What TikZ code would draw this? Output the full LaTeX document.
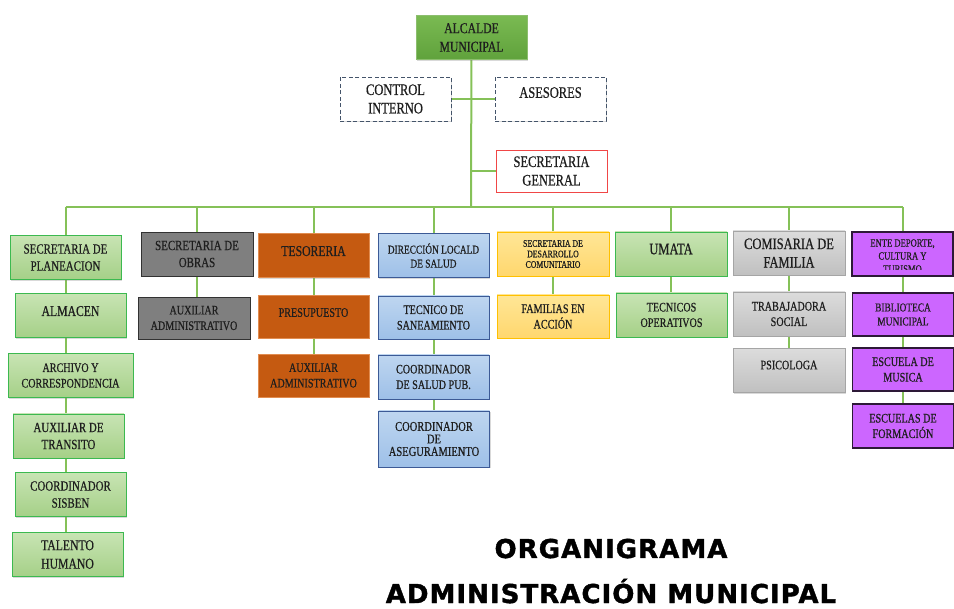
\documentclass[tikz,border=0pt]{standalone}
\usepackage{fontspec}
\usepackage{xcolor}
\usetikzlibrary{shadows,backgrounds}

\newfontfamily\boxfont[FakeStretch=0.78,FakeBold=0.6]{Liberation Serif}
\newfontfamily\titlefont[LetterSpace=4,FakeBold=1.5]{DejaVu Sans Bold}

\definecolor{linkgreen}{RGB}{133,193,88}
\definecolor{boxtext}{RGB}{30,30,30}
\definecolor{mayorA}{RGB}{122,186,82}
\definecolor{mayorB}{RGB}{96,162,60}
\definecolor{mayorline}{RGB}{140,190,110}
\definecolor{advisor}{RGB}{68,84,106}
\definecolor{secred}{RGB}{240,70,70}
\definecolor{planA}{RGB}{200,228,180}
\definecolor{planB}{RGB}{165,208,135}
\definecolor{planline}{RGB}{60,185,80}
\definecolor{worksgray}{RGB}{127,127,127}
\definecolor{worksline}{RGB}{50,50,50}
\definecolor{treasury}{RGB}{197,90,17}
\definecolor{treasuryline}{RGB}{225,140,80}
\definecolor{healthA}{RGB}{190,214,240}
\definecolor{healthB}{RGB}{158,192,232}
\definecolor{healthline}{RGB}{60,90,150}
\definecolor{devA}{RGB}{255,230,150}
\definecolor{devB}{RGB}{255,215,110}
\definecolor{devline}{RGB}{255,192,0}
\definecolor{familyA}{RGB}{220,220,220}
\definecolor{familyB}{RGB}{192,192,192}
\definecolor{familyline}{RGB}{165,165,165}
\definecolor{culture}{RGB}{204,102,255}
\definecolor{cultureline}{RGB}{45,25,55}

\begin{document}
\begin{tikzpicture}[x=1pt, y=-1pt,
    unit/.style={draw, line width=0.9pt, minimum width=111pt, minimum height=44pt,
        align=center, inner sep=2pt, text=boxtext,
        drop shadow={shadow xshift=1.2pt, shadow yshift=-1.2pt, opacity=0.3}},
    link/.style={draw=linkgreen, line width=2pt},
    mayor/.style={top color=mayorA, bottom color=mayorB, draw=mayorline},
    advice/.style={draw=advisor, dash pattern=on 4pt off 2.5pt, fill=white, drop shadow={opacity=0}},
    general/.style={draw=secred, fill=white},
    plan/.style={top color=planA, bottom color=planB, draw=planline},
    works/.style={fill=worksgray, draw=worksline},
    money/.style={fill=treasury, draw=treasuryline},
    health/.style={top color=healthA, bottom color=healthB, draw=healthline},
    develop/.style={top color=devA, bottom color=devB, draw=devline},
    family/.style={top color=familyA, bottom color=familyB, draw=familyline},
    sport/.style={fill=culture, draw=cultureline, line width=1.3pt},
    raised/.style={text depth=#1},
    sz16/.style={font=\boxfont\fontsize{16}{18.5}\selectfont},
    sz15/.style={font=\boxfont\fontsize{15}{18.5}\selectfont},
    sz14/.style={font=\boxfont\fontsize{14}{17}\selectfont},
    sz13/.style={font=\boxfont\fontsize{13}{15.5}\selectfont},
    sz12/.style={font=\boxfont\fontsize{12}{14}\selectfont},
    headline/.style={font=\titlefont\fontsize{26}{30}\selectfont, anchor=base}]

    \useasboundingbox (0,0) rectangle (954,609);

    % Mayor and staff
    \node[unit, mayor, sz15] (alcalde) at (471.5,37.5) {ALCALDE\\MUNICIPAL};
    \node[unit, advice, sz16] (control) at (395.5,99) {CONTROL\\INTERNO};
    \node[unit, advice, sz16, raised=13pt] (asesores) at (550.5,99) {ASESORES};
    \node[unit, general, sz16, minimum height=42pt] (secgen) at (551.5,171) {SECRETARIA\\GENERAL};
    \coordinate (bus) at (471,207);

    % Planeacion column
    \node[unit, plan, sz14] (plan) at (65.5,257.5) {SECRETARIA DE\\PLANEACION};
    \node[unit, plan, sz15, raised=9pt] (alm) at (70.5,315.5) {ALMACEN};
    \node[unit, plan, sz13, minimum width=125pt] (arch) at (70.5,375.5) {ARCHIVO Y\\CORRESPONDENCIA};
    \node[unit, plan, sz14] (trans) at (68.5,436) {AUXILIAR DE\\TRANSITO};
    \node[unit, plan, sz14] (sisben) at (70.5,494.5) {COORDINADOR\\SISBEN};
    \node[unit, plan, sz15] (talento) at (67.5,554.5) {TALENTO\\HUMANO};

    % Obras column
    \node[unit, works, sz14, minimum width=112pt] (obras) at (197,254) {SECRETARIA DE\\OBRAS};
    \node[unit, works, sz13, minimum width=112pt, minimum height=42pt] (auxob) at (194,318) {AUXILIAR\\ADMINISTRATIVO};

    % Tesoreria column
    \node[unit, money, sz15, raised=9pt] (tes) at (313.5,255.5) {TESORERIA};
    \node[unit, money, sz13, raised=8pt, minimum height=43pt] (pres) at (313.5,316.5) {PRESUPUESTO};
    \node[unit, money, sz13, minimum height=43pt] (auxtes) at (313.5,375.5) {AUXILIAR\\ADMINISTRATIVO};

    % Salud column
    \node[unit, health, sz12] (salud) at (433.5,255.5) {DIRECCIÓN LOCALD\\DE SALUD};
    \node[unit, health, sz13, minimum height=43pt] (tecsan) at (433.5,317.5) {TECNICO DE\\SANEAMIENTO};
    \node[unit, health, sz13] (coordsp) at (433.5,377) {COORDINADOR\\DE SALUD PUB.};
    \node[unit, health, font=\boxfont\fontsize{13.5}{12.5}\selectfont, minimum height=56pt] (coordas) at (434,439) {COORDINADOR\\DE\\ASEGURAMIENTO};

    % Desarrollo column
    \node[unit, develop, font=\boxfont\fontsize{10}{10.5}\selectfont, minimum width=112pt] (desa) at (553,254) {SECRETARIA DE\\DESARROLLO\\COMUNITARIO};
    \node[unit, develop, sz13, minimum width=112pt, minimum height=43pt] (fam) at (553,316.5) {FAMILIAS EN\\ACCIÓN};

    % UMATA column
    \node[unit, plan, sz16, raised=10pt, minimum width=112pt] (umata) at (671,254) {UMATA};
    \node[unit, plan, sz13] (tecop) at (671.5,315) {TECNICOS\\OPERATIVOS};

    % Comisaria column
    \node[unit, family, sz16, minimum width=112pt] (comis) at (789,253) {COMISARIA DE\\FAMILIA};
    \node[unit, family, sz13, minimum width=112pt] (trab) at (789,314) {TRABAJADORA\\SOCIAL};
    \node[unit, family, sz13, raised=11pt, minimum width=112pt] (psico) at (789,370.5) {PSICOLOGA};

    % Deporte column
    \node[unit, sport, minimum width=101pt] (ente) at (902.5,254) {};
    \begin{scope}
        \clip (ente.north west) rectangle ([yshift=7pt]ente.south east);
        \node[align=center, text=boxtext, font=\boxfont\fontsize{11}{13}\selectfont] (entetext) at ([yshift=-2pt]ente.center) {ENTE DEPORTE,\\CULTURA Y\\TURISMO};
    \end{scope}
    \node[unit, sport, sz12, minimum width=101pt, minimum height=43pt] (biblio) at (903,314.5) {BIBLIOTECA\\MUNICIPAL};
    \node[unit, sport, sz13, minimum width=101pt, minimum height=43pt] (musica) at (903,369.5) {ESCUELA DE\\MUSICA};
    \node[unit, sport, sz13, minimum width=101pt] (formacion) at (903,426) {ESCUELAS DE\\FORMACIÓN};

    % Connectors behind the boxes
    \begin{scope}[on background layer]
        \draw[link] (alcalde) -- (bus);
        \draw[link] (control) -- (asesores);
        \draw[link] (secgen) -- (secgen -| alcalde);
        \draw[link] (plan |- bus) -- (ente |- bus);
        \foreach \head in {plan,obras,tes,salud,desa,umata,comis,ente}
            \draw[link] (\head) -- (\head |- bus);
        \foreach \top/\last in {plan/talento,obras/auxob,tes/auxtes,salud/coordas,desa/fam,umata/tecop,comis/psico,ente/formacion}
            \draw[link] (\top) -- (\top |- \last);
    \end{scope}

    % Title
    \node[headline] (orga) at (611,558) {ORGANIGRAMA};
    \node[headline] (admin) at (611,603) {ADMINISTRACIÓN MUNICIPAL};
\end{tikzpicture}
\end{document}
